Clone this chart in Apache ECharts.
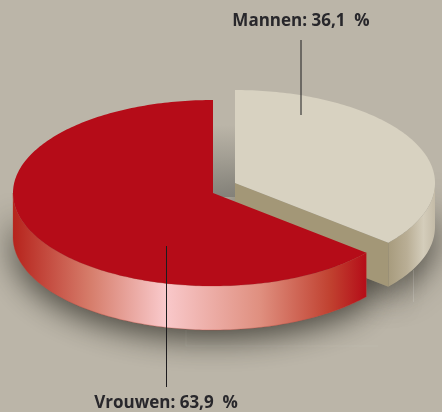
<!DOCTYPE html>
<html>
<head>
<meta charset="utf-8">
<script src="https://cdn.jsdelivr.net/npm/echarts@6/dist/echarts.min.js"></script>
<style>
  html, body { margin: 0; padding: 0; background: #bbb5a8; }
  #chart { width: 442px; height: 412px; }
</style>
</head>
<body>
<div id="chart"></div>
<script>
const categories = ['Mannen', 'Vrouwen'];
const shares = [36.1, 63.9];

// pie geometry, in pixels
const RX = 200, RY = 93, DEPTH = 44;
const centers = [[235, 183], [213, 193]];
const labelPos = [[301, 30], [166, 412]];
const leaders = [[301, 40, 115], [166.5, 246, 387]];

const topColors = ['#d8d2c1', '#b50c18'];
const cutColor = '#a39777';
const sideStops = [
  [[0, '#a79b7d'], [0.4, '#b9ae95'], [0.75, '#d4cdbb'], [1, '#c4bba7']],
  [[0, '#b6231c'], [0.22, '#d67d6b'], [0.43, '#f9c9cb'], [0.7, '#df8f7f'], [0.9, '#c0402f'], [1, '#b50c18']]
];

function pt(c, deg, dy) {
  const a = deg * Math.PI / 180;
  return [c[0] + RX * Math.sin(a), c[1] - RY * Math.cos(a) + (dy || 0)];
}

function arc(c, from, to, dy) {
  const pts = [];
  for (let d = from; d <= to; d += 1) pts.push(pt(c, d, dy));
  pts.push(pt(c, to, dy));
  return pts;
}

function gradient(x2, y2, stops) {
  return new echarts.graphic.LinearGradient(0, 0, x2, y2,
    stops.map(s => ({ offset: s[0], color: s[1] })));
}

function sliceFaces(i, value) {
  const before = shares.slice(0, i).reduce((a, b) => a + b, 0);
  const total = shares.reduce((a, b) => a + b, 0);
  const from = before / total * 360;
  const to = (before + value) / total * 360;
  const c = centers[i];
  const visFrom = Math.max(from, 90), visTo = Math.min(to, 270);
  return {
    c,
    top: [c].concat(arc(c, from, to)),
    side: arc(c, visFrom, visTo).concat(arc(c, visFrom, visTo, DEPTH).reverse()),
    cut: to < 180 ? [c, pt(c, to), pt(c, to, DEPTH), [c[0], c[1] + DEPTH]] : null
  };
}

// first pass: the soft shadow under both slices
function renderShadow(params, api) {
  const i = params.dataIndex;
  const f = sliceFaces(i, api.value(0));
  const children = [];
  [f.side, f.cut].forEach(pts => {
    if (pts) {
      children.push({
        type: 'polygon',
        shape: { points: pts },
        style: { fill: '#8a877e', shadowBlur: 32, shadowColor: 'rgba(30,28,22,0.75)', shadowOffsetY: 9 }
      });
    }
  });
  if (i === 0) {
    // darkening in the gap between the two slices
    children.push({
      type: 'rect',
      shape: { x: centers[1][0], y: 125, width: centers[0][0] - centers[1][0], height: 72 },
      style: { fill: gradient(0, 1, [[0, 'rgba(130,128,120,0)'], [1, 'rgba(130,128,120,0.95)']]) }
    });
  } else {
    // faint frame left in the backdrop
    children.push({
      type: 'polyline',
      shape: { points: [[186, 330], [186, 346], [378, 346]] },
      style: { fill: null, stroke: 'rgba(255,255,255,0.06)', lineWidth: 1 }
    });
    children.push({
      type: 'line',
      shape: { x1: 413.5, y1: 270, x2: 413.5, y2: 302 },
      style: { stroke: 'rgba(255,255,255,0.14)', lineWidth: 1 }
    });
  }
  return { type: 'group', children };
}

function renderSlice(params, api) {
  const i = params.dataIndex;
  const f = sliceFaces(i, api.value(0));
  const children = [];
  children.push({
    type: 'polygon',
    shape: { points: f.side },
    style: { fill: gradient(1, 0, sideStops[i]), stroke: 'rgba(190,60,50,' + (i ? 0.5 : 0) + ')', lineWidth: 0.6 }
  });
  if (f.cut) {
    children.push({ type: 'polygon', shape: { points: f.cut }, style: { fill: cutColor } });
  }
  children.push({ type: 'polygon', shape: { points: f.top }, style: { fill: topColors[i] } });
  children.push({
    type: 'line',
    shape: { x1: leaders[i][0], y1: leaders[i][1], x2: leaders[i][0], y2: leaders[i][2] },
    style: { stroke: '#1d1c1e', lineWidth: 1 }
  });
  children.push({
    type: 'text',
    style: {
      x: labelPos[i][0], y: labelPos[i][1],
      text: categories[i] + ': ' + api.value(0).toFixed(1).replace('.', ',') + ' \u00a0%',
      fill: '#28272b',
      font: 'bold 17px "Open Sans", sans-serif',
      align: 'center', verticalAlign: 'bottom'
    }
  });
  return { type: 'group', children };
}

const chart = echarts.init(document.getElementById('chart'));
chart.setOption({
  backgroundColor: '#bbb5a8',
  animation: false,
  series: [
    { type: 'custom', coordinateSystem: 'none', renderItem: renderShadow, silent: true, data: shares.map(v => [v]) },
    { type: 'custom', coordinateSystem: 'none', renderItem: renderSlice, silent: true, data: shares.map(v => [v]) }
  ]
});
</script>
</body>
</html>
